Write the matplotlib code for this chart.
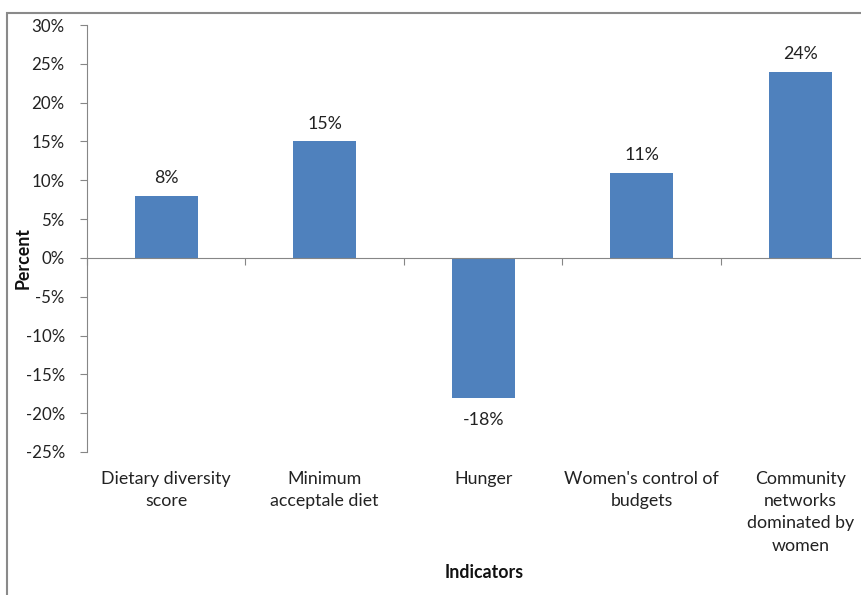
import matplotlib
matplotlib.use("Agg")
import matplotlib.pyplot as plt
from matplotlib.patches import Rectangle
from matplotlib.ticker import FuncFormatter

categories = ["Dietary diversity\nscore", "Minimum\nacceptale diet", "Hunger",
              "Women's control of\nbudgets", "Community\nnetworks\ndominated by\nwomen"]
values = [8, 15, -18, 11, 24]
data_labels = ["8%", "15%", "-18%", "11%", "24%"]
yticks = [-25, -20, -15, -10, -5, 0, 5, 10, 15, 20, 25, 30]

plt.rcParams['font.family'] = ['Lato', 'DejaVu Sans']
fs = 12.8
fig = plt.figure(figsize=(8.62, 5.95), dpi=100)
ax = fig.add_axes([87/862, 1-452/595, 792.5/862, 427/595])

x = list(range(len(categories)))
ax.bar(x, values, width=0.4, color="#4F81BD", zorder=2)
ax.set_xlim(-0.5, len(categories) - 0.5)
ax.set_ylim(-25, 30)
ax.set_yticks(yticks)
ax.yaxis.set_major_formatter(FuncFormatter(lambda v, p: f"{int(v)}%"))

gray = "#868686"
for s in ["top", "right"]:
    ax.spines[s].set_visible(False)
ax.spines["left"].set_color(gray)
ax.spines["bottom"].set_color(gray)
ax.spines["bottom"].set_position(("data", 0))
ax.tick_params(axis="y", colors=gray, labelcolor="#222222", labelsize=12.2, length=5, direction="out", pad=11)
ax.set_xticks([i + 0.5 for i in range(-1, len(categories))])
ax.tick_params(axis="x", colors=gray, length=5, direction="out", labelbottom=False)

for xi, v, lab in zip(x, values, data_labels):
    if v >= 0:
        ax.annotate(lab, (xi, v), xytext=(0, 7), textcoords="offset points",
                    ha="center", va="bottom", fontsize=fs, color="#222222")
    else:
        ax.annotate(lab, (xi, v), xytext=(0, -10), textcoords="offset points",
                    ha="center", va="top", fontsize=fs, color="#222222")

for xi, c in zip(x, categories):
    ax.text(xi, -0.045, c, transform=ax.get_xaxis_transform(), ha="center", va="top",
            fontsize=fs, color="#222222", linespacing=1.47)

fig.text(23/862, 1-258/595, "Percent", rotation=90, ha="center", va="center",
         fontsize=fs, fontweight="bold", color="#111111")
fig.text(484/862, 1-573/595, "Indicators", ha="center", va="center",
         fontsize=fs, fontweight="bold", color="#111111")

fig.patches.append(Rectangle((7/862, -0.1), 1.2, 1-13/595 + 0.1, transform=fig.transFigure,
                             fill=False, edgecolor="#8a8a8a", linewidth=1.5))

fig.savefig("out.png", dpi=100)
